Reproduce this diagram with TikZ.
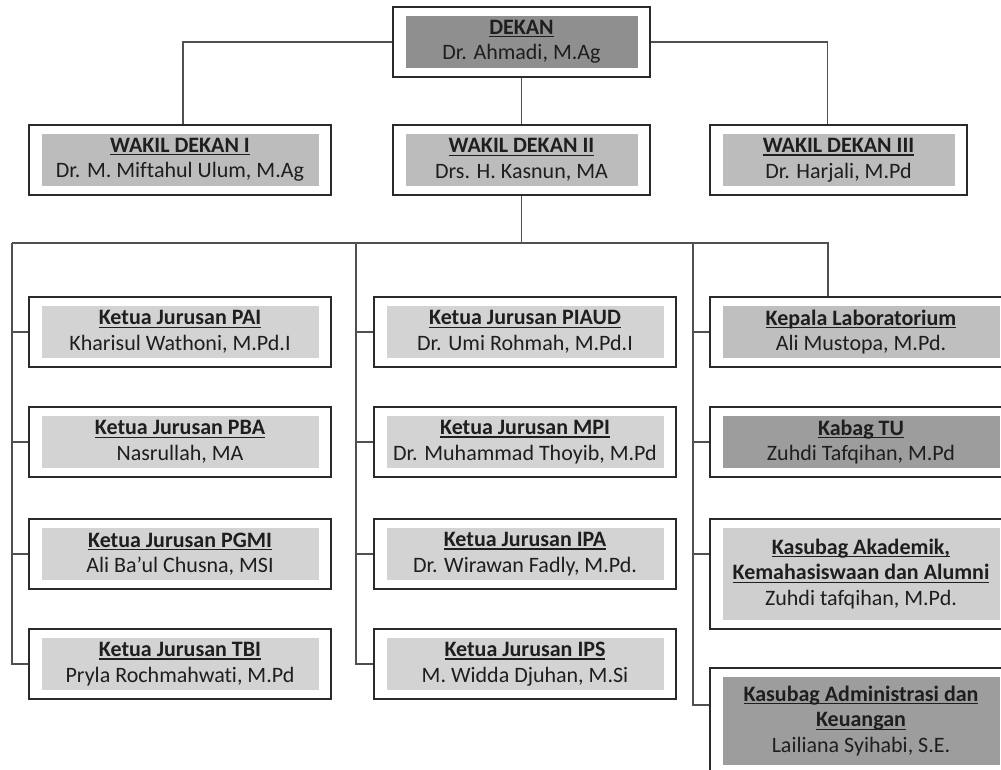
\documentclass[tikz,border=0pt]{standalone}
\usepackage{fontspec}
\setmainfont{Carlito}[Ligatures={NoCommon}]
\definecolor{gdekan}{HTML}{8F8F8F}
\definecolor{gwakil}{HTML}{BCBCBC}
\definecolor{gketua}{HTML}{D3D3D3}
\definecolor{glab}{HTML}{BFBFBF}
\definecolor{gdark}{HTML}{9D9D9D}
\definecolor{gaka}{HTML}{CFCFCF}
\definecolor{frame}{HTML}{2A2A2A}
\definecolor{conncol}{HTML}{505050}
\definecolor{txt}{HTML}{1E1E1E}
\tikzset{
  orgbox/.style={draw=frame, line width=1.6pt, fill=white, minimum height=70pt,
    inner sep=0pt, align=center, text=txt, font=\fontsize{22}{25.5}\selectfont,
    path picture={\fill[#1] ([xshift=13pt,yshift=-9pt]path picture bounding box.north west)
      rectangle ([xshift=-12pt,yshift=9pt]path picture bounding box.south east);}},
  conn/.style={draw=conncol, line width=1.3pt}
}
\newsavebox\ttlbox
\newcommand\ttl[1]{\sbox\ttlbox{\textbf{#1}}\rlap{\rule[-3pt]{\wd\ttlbox}{1.3pt}}\usebox\ttlbox}
\begin{document}
\begin{tikzpicture}[x=1pt,y=-1pt]
\useasboundingbox (0,0) rectangle (1001,769);
\clip (0,0) rectangle (1001,769);
% top
\node[orgbox=gdekan, minimum width=257pt] (dekan) at (521.5,42) {\ttl{DEKAN}\\Dr. Ahmadi, M.Ag};
\node[orgbox=gwakil, minimum width=302pt] (w1) at (180,160) {\ttl{WAKIL DEKAN I}\\Dr. M. Miftahul Ulum, M.Ag};
\node[orgbox=gwakil, minimum width=257pt] (w2) at (521.5,160) {\ttl{WAKIL DEKAN II}\\Drs. H. Kasnun, MA};
\node[orgbox=gwakil, minimum width=257pt] (w3) at (838.5,160) {\ttl{WAKIL DEKAN III}\\Dr. Harjali, M.Pd};
% left column
\node[orgbox=gketua, minimum width=302pt] (pai) at (180,332) {\ttl{Ketua Jurusan PAI}\\Kharisul Wathoni, M.Pd.I};
\node[orgbox=gketua, minimum width=302pt] (pba) at (180,442) {\ttl{Ketua Jurusan PBA}\\Nasrullah, MA};
\node[orgbox=gketua, minimum width=302pt] (pgmi) at (180,554) {\ttl{Ketua Jurusan PGMI}\\Ali Ba’ul Chusna, MSI};
\node[orgbox=gketua, minimum width=302pt] (tbi) at (180,664) {\ttl{Ketua Jurusan TBI}\\Pryla Rochmahwati, M.Pd};
% middle column
\node[orgbox=gketua, minimum width=302pt] (piaud) at (525,332) {\ttl{Ketua Jurusan PIAUD}\\Dr. Umi Rohmah, M.Pd.I};
\node[orgbox=gketua, minimum width=302pt] (mpi) at (525,442) {\ttl{Ketua Jurusan MPI}\\Dr. Muhammad Thoyib, M.Pd};
\node[orgbox=gketua, minimum width=302pt] (ipa) at (525,554) {\ttl{Ketua Jurusan IPA}\\Dr. Wirawan Fadly, M.Pd.};
\node[orgbox=gketua, minimum width=302pt] (ips) at (525,664) {\ttl{Ketua Jurusan IPS}\\M. Widda Djuhan, M.Si};
% right column
\node[orgbox=glab, minimum width=302pt] (lab) at (861,332) {\ttl{Kepala Laboratorium}\\Ali Mustopa, M.Pd.};
\node[orgbox=gdark, minimum width=302pt] (tu) at (861,442) {\ttl{Kabag TU}\\Zuhdi Tafqihan, M.Pd};
\node[orgbox=gaka, minimum width=302pt, minimum height=110pt] (aka) at (861,574) {\ttl{Kasubag Akademik,}\\\ttl{Kemahasiswaan dan Alumni}\\Zuhdi tafqihan, M.Pd.};
\node[orgbox=gdark, minimum width=302pt, minimum height=106pt] (adm) at (861,721) {\ttl{Kasubag Administrasi dan}\\\ttl{Keuangan}\\Lailiana Syihabi, S.E.};
% connectors
\draw[conn] (dekan.west) -| ([xshift=3pt]w1.north);
\draw[conn] (dekan.east) -| ([xshift=-11pt]w3.north);
\draw[conn] (dekan.south) -- (w2.south |- w2.north);
\coordinate (bl) at (12,243);
\coordinate (bm) at (356,243);
\coordinate (bv) at (693,243);
\coordinate (br) at (828,243);
\draw[conn] (w2.south) -- (w2.south |- bl);
\draw[conn] (bl) -- (br) -- (br |- lab.north);
\draw[conn] (bl) |- (tbi.west);
\draw[conn] (bl |- pai.west) -- (pai.west);
\draw[conn] (bl |- pba.west) -- (pba.west);
\draw[conn] (bl |- pgmi.west) -- (pgmi.west);
\draw[conn] (bm) |- (ips.west);
\draw[conn] (bm |- piaud.west) -- (piaud.west);
\draw[conn] (bm |- mpi.west) -- (mpi.west);
\draw[conn] (bm |- ipa.west) -- (ipa.west);
\draw[conn] (bv) |- ([yshift=16pt]adm.west);
\draw[conn] (bv |- lab.west) -- (lab.west);
\draw[conn] (bv |- tu.west) -- (tu.west);
\draw[conn] (bv |- 0,554) -- (aka.west |- 0,554);
\end{tikzpicture}
\end{document}
